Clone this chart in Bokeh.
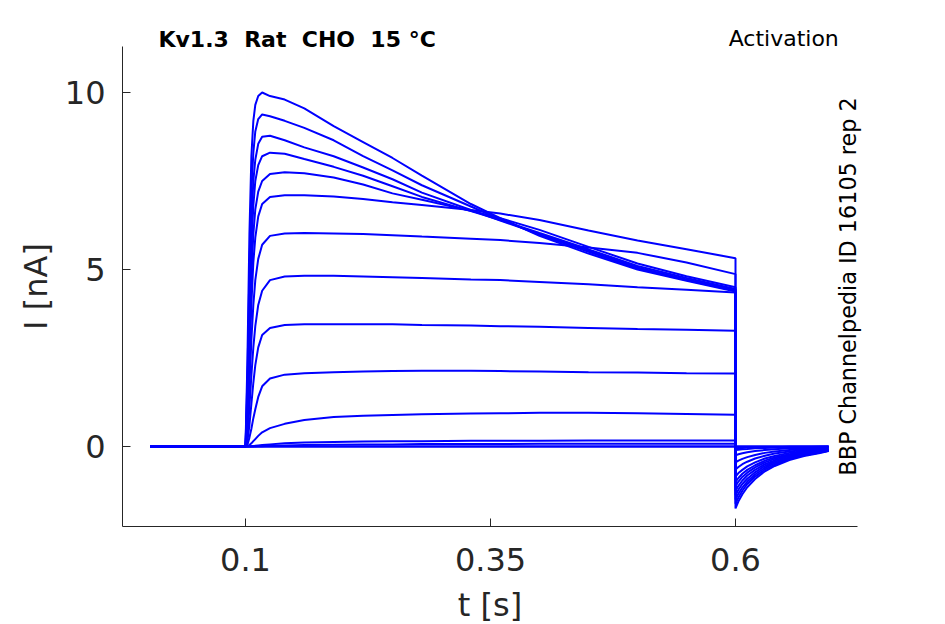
import math
from bokeh.plotting import figure
from bokeh.models import Range1d, Label, FixedTicker, ColumnDataSource
from bokeh.embed import file_html
from bokeh.resources import INLINE

# ---- data (time in s, current in nA) ----
t_step = [0.003, 0.1, 0.102, 0.104, 0.106, 0.108, 0.11, 0.113, 0.117, 0.125, 0.14, 0.16,
          0.19, 0.22, 0.25, 0.28, 0.33, 0.36, 0.4, 0.45, 0.5, 0.55, 0.6]
t_tail = [0.6, 0.603, 0.607, 0.612, 0.62, 0.63, 0.64, 0.655, 0.67, 0.685, 0.695]

step_01 = [0, 0, 2.5, 6.0, 8.2, 9.2, 9.65, 9.9, 10.0, 9.9, 9.8, 9.55, 9.05, 8.6, 8.15, 7.65, 6.85, 6.45, 5.95, 5.45, 5.0, 4.68, 4.38]
step_02 = [0, 0, 2.0, 5.0, 7.2, 8.3, 8.9, 9.25, 9.38, 9.33, 9.2, 9.0, 8.65, 8.2, 7.8, 7.38, 6.78, 6.42, 5.98, 5.5, 5.03, 4.7, 4.4]
step_03 = [0, 0, 1.6, 4.2, 6.3, 7.5, 8.1, 8.55, 8.75, 8.78, 8.65, 8.45, 8.2, 7.88, 7.55, 7.17, 6.68, 6.38, 6.0, 5.53, 5.06, 4.72, 4.42]
step_04 = [0, 0, 1.3, 3.6, 5.6, 6.8, 7.5, 7.95, 8.2, 8.3, 8.27, 8.12, 7.9, 7.65, 7.35, 7.05, 6.65, 6.4, 6.03, 5.57, 5.1, 4.76, 4.45]
step_05 = [0, 0, 1.0, 3.0, 4.8, 6.0, 6.7, 7.2, 7.5, 7.7, 7.75, 7.72, 7.6, 7.4, 7.15, 6.97, 6.66, 6.45, 6.12, 5.64, 5.17, 4.81, 4.5]
step_06 = [0, 0, 0.8, 2.4, 4.0, 5.2, 5.9, 6.5, 6.85, 7.05, 7.1, 7.1, 7.06, 6.99, 6.9, 6.82, 6.68, 6.58, 6.4, 6.1, 5.82, 5.57, 5.32]
step_07 = [0, 0, 0.5, 1.7, 3.0, 4.0, 4.7, 5.3, 5.7, 5.95, 6.02, 6.03, 6.02, 6.0, 5.97, 5.93, 5.87, 5.83, 5.75, 5.62, 5.47, 5.2, 4.87]
step_08 = [0, 0, 0.3, 1.1, 2.0, 2.8, 3.4, 4.0, 4.4, 4.7, 4.8, 4.82, 4.82, 4.8, 4.78, 4.76, 4.72, 4.7, 4.65, 4.58, 4.5, 4.43, 4.35]
step_09 = [0, 0, 0.15, 0.6, 1.2, 1.8, 2.3, 2.8, 3.15, 3.35, 3.43, 3.45, 3.45, 3.45, 3.45, 3.43, 3.42, 3.4, 3.38, 3.35, 3.32, 3.3, 3.27]
step_10 = [0, 0, 0.05, 0.25, 0.5, 0.8, 1.05, 1.4, 1.7, 1.92, 2.03, 2.07, 2.1, 2.12, 2.13, 2.14, 2.14, 2.13, 2.12, 2.1, 2.09, 2.07, 2.06]
step_11 = [0, 0, 0.01, 0.04, 0.09, 0.15, 0.21, 0.3, 0.4, 0.52, 0.64, 0.75, 0.83, 0.87, 0.89, 0.91, 0.93, 0.94, 0.95, 0.95, 0.94, 0.92, 0.9]
step_12 = [0, 0, 0, 0, 0.01, 0.01, 0.02, 0.03, 0.04, 0.06, 0.09, 0.11, 0.13, 0.14, 0.15, 0.15, 0.16, 0.16, 0.16, 0.17, 0.17, 0.17, 0.17]
step_13 = [0, 0, 0, 0, 0, 0, 0, 0.01, 0.01, 0.02, 0.03, 0.04, 0.05, 0.06, 0.06, 0.07, 0.07, 0.07, 0.08, 0.08, 0.08, 0.08, 0.08]
step_14 = [0, 0, 0, 0, 0, 0, 0, 0, 0, 0, 0, 0, 0, 0, 0, 0, 0, 0, 0, 0, 0, 0, 0]
step_15 = [0, 0, 0, 0, 0, 0, 0, 0, 0, 0, 0, 0, 0, 0, 0, 0, 0, 0, 0, 0, 0, 0, 0]

tail_01 = [-1.75, -1.55, -1.35, -1.15, -0.92, -0.70, -0.55, -0.38, -0.27, -0.19, -0.13]
tail_02 = [-1.62, -1.44, -1.25, -1.06, -0.85, -0.65, -0.51, -0.35, -0.25, -0.18, -0.12]
tail_03 = [-1.50, -1.33, -1.16, -0.99, -0.79, -0.60, -0.47, -0.33, -0.23, -0.16, -0.12]
tail_04 = [-1.38, -1.22, -1.06, -0.91, -0.73, -0.55, -0.43, -0.30, -0.21, -0.15, -0.11]
tail_05 = [-1.25, -1.11, -0.96, -0.82, -0.66, -0.50, -0.39, -0.27, -0.19, -0.14, -0.10]
tail_06 = [-1.12, -0.99, -0.86, -0.74, -0.59, -0.45, -0.35, -0.24, -0.17, -0.12, -0.09]
tail_07 = [-1.00, -0.89, -0.77, -0.66, -0.53, -0.40, -0.31, -0.22, -0.15, -0.11, -0.08]
tail_08 = [-0.85, -0.75, -0.66, -0.56, -0.45, -0.34, -0.27, -0.18, -0.13, -0.09, -0.07]
tail_09 = [-0.65, -0.58, -0.50, -0.43, -0.34, -0.26, -0.20, -0.14, -0.10, -0.07, -0.05]
tail_10 = [-0.45, -0.40, -0.35, -0.30, -0.24, -0.18, -0.14, -0.10, -0.07, -0.05, -0.03]
tail_11 = [-0.25, -0.22, -0.19, -0.16, -0.13, -0.10, -0.08, -0.05, -0.04, -0.03, -0.02]
tail_12 = [-0.10, -0.09, -0.08, -0.07, -0.05, -0.04, -0.03, -0.02, -0.02, -0.01, -0.01]
tail_13 = [-0.05, -0.04, -0.04, -0.03, -0.03, -0.02, -0.02, -0.01, -0.01, -0.01, 0.0]
tail_14 = [0, 0, 0, 0, 0, 0, 0, 0, 0, 0, 0]
tail_15 = [0, 0, 0, 0, 0, 0, 0, 0, 0, 0, 0]

x_ticks = [0.1, 0.35, 0.6]
y_ticks = [0, 5, 10]
x_axis_span = (-0.0255, 0.7245)
y_axis_span = (-2.26, 11.30)
title_text = "Kv1.3\u00a0\u00a0Rat\u00a0\u00a0CHO\u00a0\u00a015\u00a0\u00b0C"
protocol_text = "Activation"
source_text = "BBP Channelpedia ID 16105 rep 2"

steps = [step_01, step_02, step_03, step_04, step_05, step_06, step_07, step_08,
         step_09, step_10, step_11, step_12, step_13, step_14, step_15]
tails = [tail_01, tail_02, tail_03, tail_04, tail_05, tail_06, tail_07, tail_08,
         tail_09, tail_10, tail_11, tail_12, tail_13, tail_14, tail_15]

src = ColumnDataSource(dict(
    xs=[t_step + t_tail for _ in steps],
    ys=[s + t for s, t in zip(steps, tails)],
))

FONT = "DejaVu Sans"
GRAY = "#262626"

# frame fills the whole canvas; axes are pinned at fixed data locations
W, H = 937, 624
p = figure(width=W, height=H, output_backend="svg", toolbar_location=None,
           x_range=Range1d(-147 / 980, (W - 147) / 980),
           y_range=Range1d(-(H - 446) / 35.4, 446 / 35.4))
p.min_border = 0
p.min_border_left = 0
p.min_border_right = 0
p.min_border_top = 0
p.min_border_bottom = 0
p.outline_line_color = None
p.grid.visible = False
p.background_fill_color = "white"
p.border_fill_color = "white"

p.multi_line(xs="xs", ys="ys", source=src, line_color="#0000ff", line_width=2)

xa = p.xaxis[0]
ya = p.yaxis[0]
xa.fixed_location = y_axis_span[0]
xa.bounds = x_axis_span
ya.fixed_location = x_axis_span[0]
ya.bounds = y_axis_span

for ax in (xa, ya):
    ax.axis_line_color = GRAY
    ax.axis_line_width = 1
    ax.major_tick_line_color = GRAY
    ax.major_tick_in = 8
    ax.major_tick_out = 0
    ax.minor_tick_line_color = None
    ax.major_label_text_font = FONT
    ax.major_label_text_font_size = "32px"
    ax.major_label_text_color = GRAY
    ax.axis_label_text_font = FONT
    ax.axis_label_text_font_size = "32px"
    ax.axis_label_text_font_style = "normal"
    ax.axis_label_text_color = GRAY

xa.ticker = FixedTicker(ticks=x_ticks)
ya.ticker = FixedTicker(ticks=y_ticks)
xa.major_label_overrides = {0.1: "0.1", 0.35: "0.35", 0.6: "0.6"}
ya.major_label_standoff = 17
xa.major_label_standoff = 21
xa.axis_label = "t [s]"
xa.axis_label_standoff = 12
ya.axis_label = "I [nA]"
ya.axis_label_standoff = 7

p.add_layout(Label(x=0.0112, y=11.49, text=title_text, text_align="left", text_baseline="alphabetic",
                   text_font=FONT, text_font_size="22px", text_font_style="bold", text_color="black"))
p.add_layout(Label(x=0.593, y=11.52, text=protocol_text, text_align="left", text_baseline="alphabetic",
                   text_font=FONT, text_font_size="22px", text_color="black"))
p.add_layout(Label(x=0.7153, y=4.52, text=source_text, text_align="center", text_baseline="alphabetic",
                   angle=math.pi / 2, text_font=FONT, text_font_size="22.3px", text_color="black"))

open("out.html", "w").write(file_html(p, INLINE))
